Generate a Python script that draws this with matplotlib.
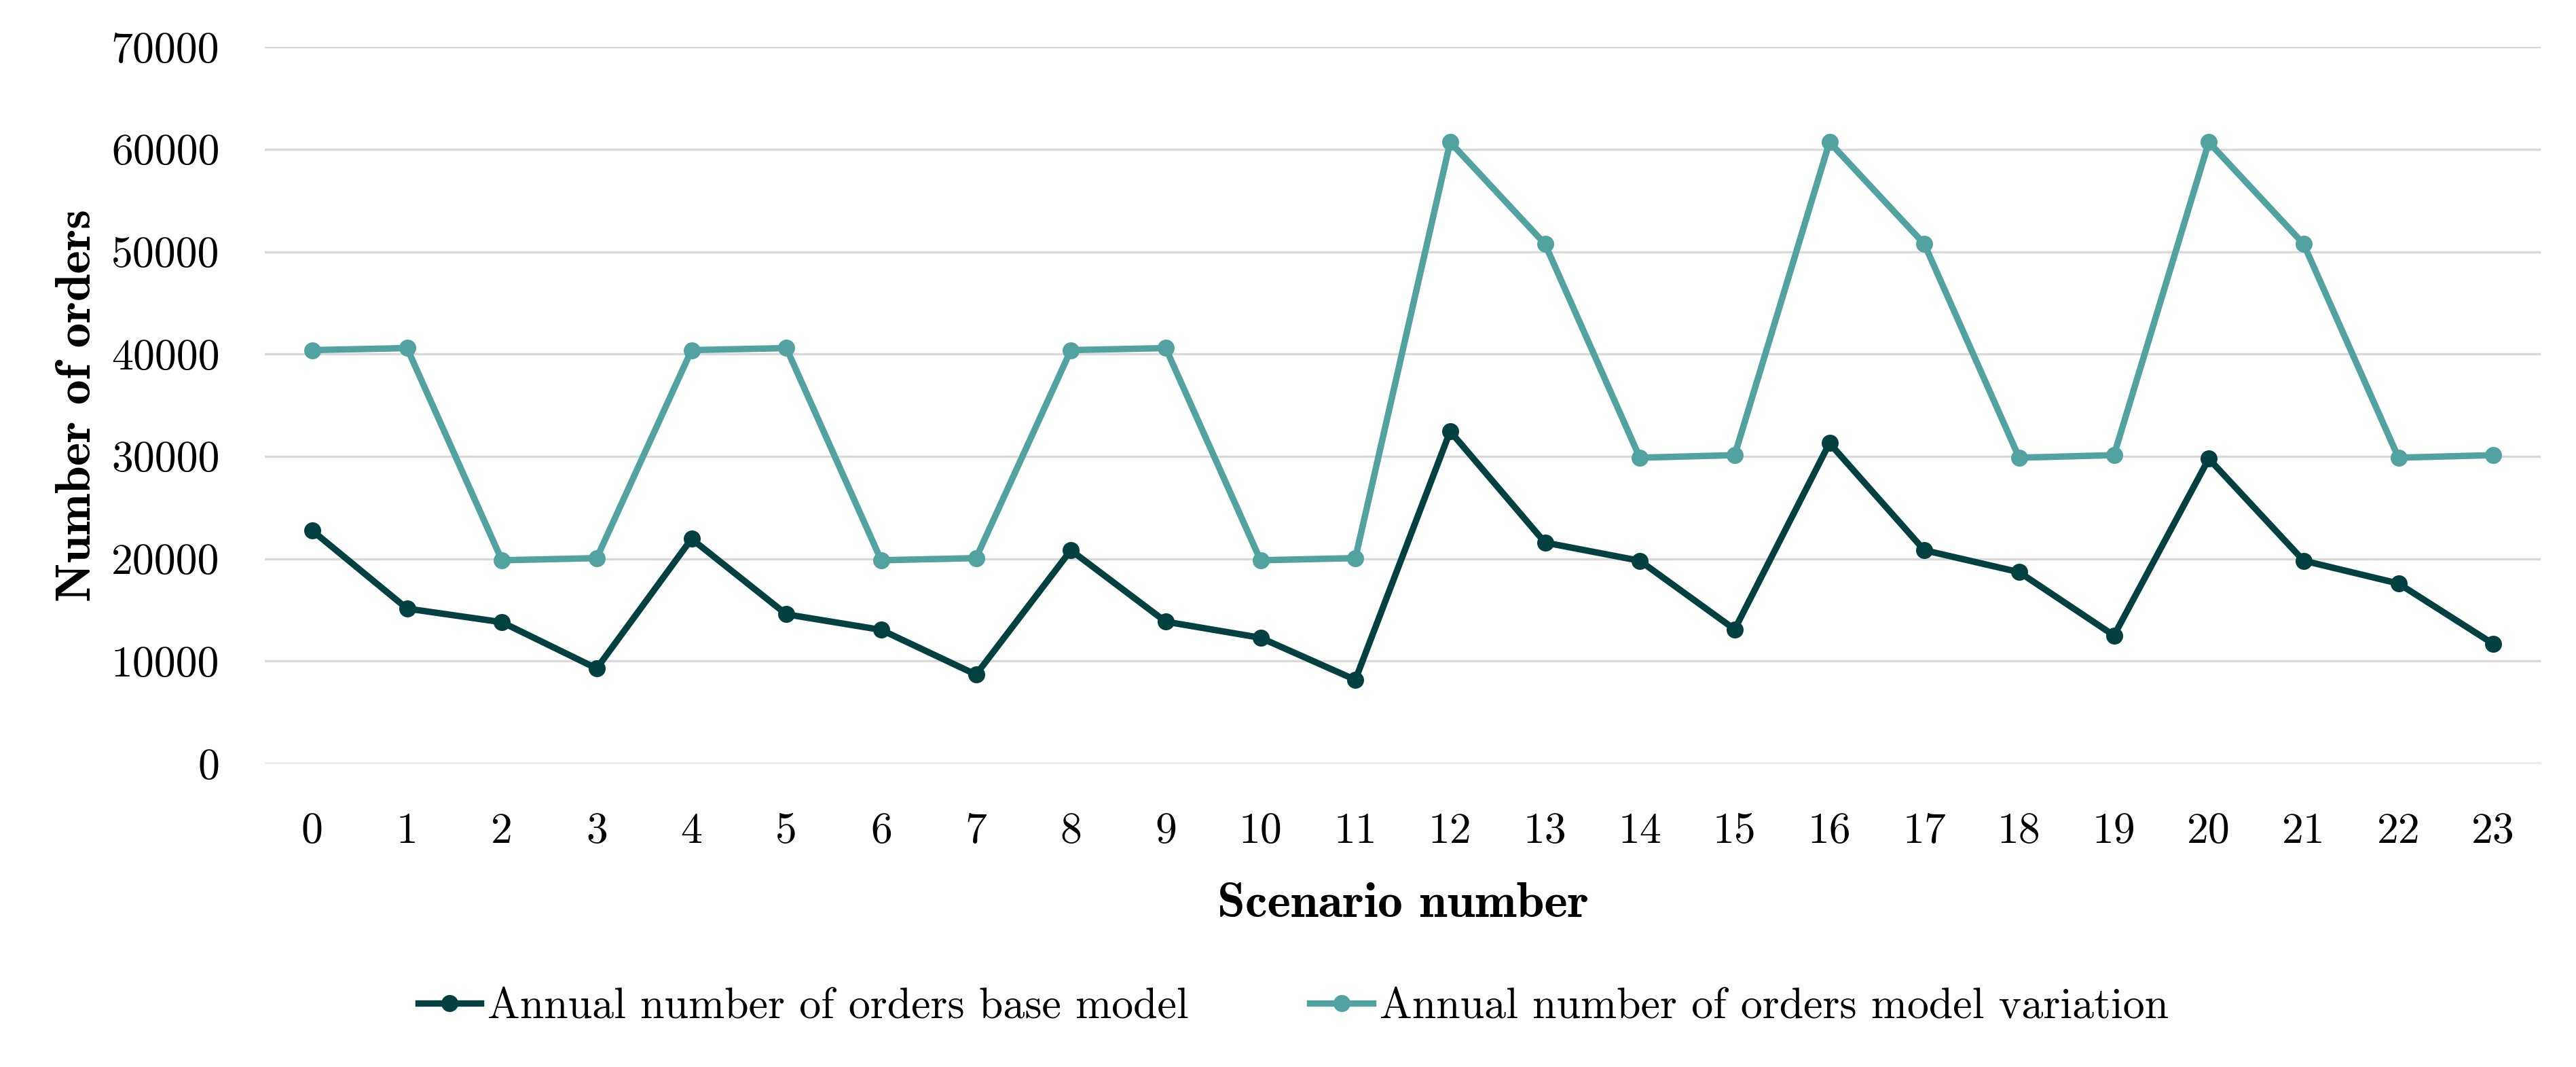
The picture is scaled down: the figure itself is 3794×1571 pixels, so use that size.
import matplotlib
matplotlib.use("Agg")
import matplotlib.pyplot as plt

# data
scenarios = list(range(24))
base_model = [22750, 15130, 13800, 9280, 21940, 14570, 13050, 8680,
              20830, 13850, 12280, 8170, 32450, 21580, 19800, 13100,
              31290, 20830, 18690, 12500, 29770, 19810, 17580, 11680]
model_variation = [40380, 40580, 19850, 20060, 40380, 40580, 19850, 20060,
                   40380, 40580, 19850, 20060, 60700, 50750, 29870, 30120,
                   60700, 50750, 29870, 30120, 60700, 50750, 29870, 30120]
y_ticks = [0, 10000, 20000, 30000, 40000, 50000, 60000, 70000]
series_names = ["Annual number of orders base model",
                "Annual number of orders model variation"]

plt.rcParams['font.family'] = ['cmr10', 'DejaVu Serif']
plt.rcParams['axes.formatter.use_mathtext'] = True

dark = '#02413f'
teal = '#52a3a0'

fig = plt.figure(figsize=(18.97, 7.855), dpi=200)
ax = fig.add_axes([0.1028, 0.2845, 0.8835, 0.6715])

ax.plot(scenarios, base_model, color=dark, lw=3.4, marker='o', ms=8,
        label=series_names[0], zorder=3)
ax.plot(scenarios, model_variation, color=teal, lw=3.4, marker='o', ms=8,
        label=series_names[1], zorder=3)

ax.set_xlim(-0.5, 23.5)
ax.set_ylim(0, 70000)
ax.set_xticks(scenarios)
ax.set_xticklabels([str(s) for s in scenarios])
ax.set_yticks(y_ticks)
ax.set_yticklabels([str(v) for v in y_ticks])
ax.yaxis.grid(True, color='#d9d9d9', lw=1.2)
ax.set_axisbelow(True)
for s in ax.spines.values():
    s.set_visible(False)
ax.tick_params(axis='both', length=0, labelsize=23)
ax.tick_params(axis='x', pad=26)
ax.tick_params(axis='y', pad=24)

ax.set_xlabel("Scenario number", fontsize=26.5, family='cmb10', labelpad=16)
ax.set_ylabel("Number of orders", fontsize=26.5, family='cmb10', labelpad=6)

fig.legend(loc='center', bbox_to_anchor=(0.502, 0.056), ncol=2, frameon=False,
           fontsize=23, handlelength=1.45, handletextpad=0.15, columnspacing=2.8)

fig.savefig("out.png", dpi=200, facecolor='white')
